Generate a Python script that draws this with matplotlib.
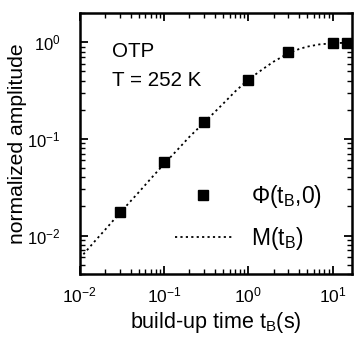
import matplotlib
matplotlib.use("Agg")
from matplotlib import pyplot as plt
from matplotlib.ticker import LogLocator, NullFormatter

# measured points Phi(t_B, 0)
t_data = [0.03, 0.1, 0.3, 1.0, 3.0, 10.0, 15.0]
phi_data = [0.0174, 0.057, 0.149, 0.41, 0.79, 0.98, 0.99]

# model curve M(t_B)
t_model = [0.01, 0.015, 0.02, 0.03, 0.05, 0.07, 0.1, 0.15, 0.2, 0.3, 0.5, 0.7,
           1.0, 1.5, 2.0, 3.0, 4.0, 5.0, 7.0, 10.0, 15.0, 17.0]
m_model = [0.0058, 0.0087, 0.0115, 0.0172, 0.028, 0.039, 0.055, 0.08, 0.105,
           0.148, 0.23, 0.31, 0.41, 0.53, 0.63, 0.77, 0.85, 0.90, 0.95, 0.975,
           0.99, 0.995]

plt.rcParams['font.family'] = ['Liberation Sans', 'DejaVu Sans']
plt.rcParams['mathtext.default'] = 'regular'
plt.rcParams['axes.unicode_minus'] = False

fig = plt.figure(figsize=(3.58, 3.37), dpi=100)
ax = fig.add_axes([0.223, 0.187, 0.76, 0.774])

ax.plot(t_model, m_model, linestyle=(0, (1.2, 1.8)), color='black', linewidth=1.3,
        label=r'M(t$_B$)')
ax.plot(t_data, phi_data, 's', color='black', markersize=7, linestyle='none',
        label=r'$\Phi$(t$_B$,0)')

ax.set_xscale('log')
ax.set_yscale('log')
ax.set_xlim(0.01, 17)
ax.set_ylim(0.004, 2.0)

for s in ax.spines.values():
    s.set_linewidth(1.8)

ax.xaxis.set_major_locator(LogLocator(base=10, numticks=10))
ax.yaxis.set_major_locator(LogLocator(base=10, numticks=10))
ax.xaxis.set_minor_locator(LogLocator(base=10, subs=range(2, 10), numticks=10))
ax.yaxis.set_minor_locator(LogLocator(base=10, subs=range(2, 10), numticks=10))
ax.xaxis.set_minor_formatter(NullFormatter())
ax.yaxis.set_minor_formatter(NullFormatter())
ax.tick_params(which='both', direction='in', top=True, right=True, labelsize=12.5)
ax.tick_params(axis='y', labelsize=12)
ax.tick_params(which='major', length=6, width=1.3)
ax.tick_params(axis='x', which='major', pad=8)
ax.tick_params(axis='y', which='major', pad=14)
ax.tick_params(which='minor', length=3.5, width=1.0)

ax.set_xlabel(r'build-up time t$_B$(s)', fontsize=15.5)
ax.set_ylabel('normalized amplitude', fontsize=15.2)
ax.xaxis.set_label_coords(0.5, -0.138)
ax.yaxis.set_label_coords(-0.195, 0.5)

ax.text(0.12, 0.854, 'OTP', transform=ax.transAxes, fontsize=14.8, va='center')
ax.text(0.12, 0.743, 'T = 252 K', transform=ax.transAxes, fontsize=14.8, va='center')

h, l = ax.get_legend_handles_labels()
ax.legend(h[::-1], l[::-1], loc='upper left', bbox_to_anchor=(0.349, 0.35),
          frameon=False, fontsize=16.5, handlelength=2.5, handletextpad=0.83,
          labelspacing=0.67, borderpad=0, borderaxespad=0, numpoints=1)

fig.savefig('out.png', dpi=100)
